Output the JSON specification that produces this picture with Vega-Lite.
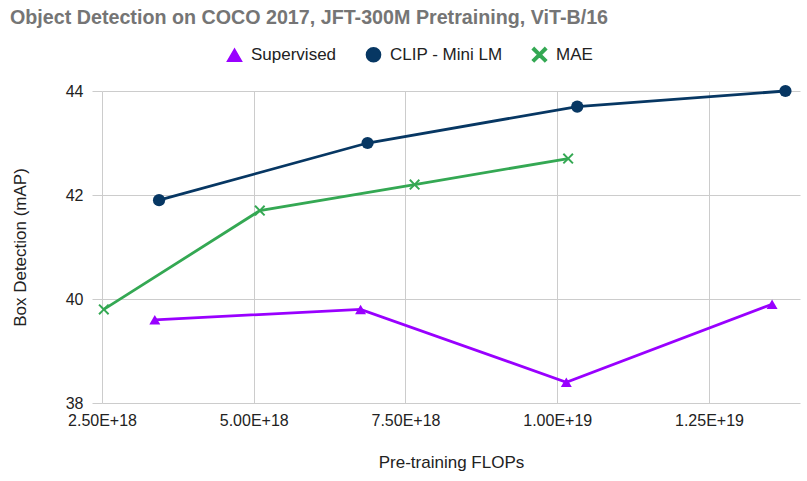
{
  "$schema": "https://vega.github.io/schema/vega-lite/v6.json",
  "autosize": {"type": "none"},
  "width": 698,
  "height": 312,
  "padding": {"left": 102, "top": 91, "right": 7, "bottom": 78},
  "background": "white",
  "title": {
    "text": "Object Detection on COCO 2017, JFT-300M Pretraining, ViT-B/16",
    "anchor": "start",
    "frame": "group",
    "dx": -92,
    "offset": 18,
    "font": "Liberation Sans",
    "fontSize": 19.7,
    "fontWeight": "bold",
    "color": "#757575"
  },
  "data": {
    "values": [
      {"series": "Supervised", "flops": 3.37e18, "map": 39.6},
      {"series": "Supervised", "flops": 6.76e18, "map": 39.8},
      {"series": "Supervised", "flops": 10.15e18, "map": 38.4},
      {"series": "Supervised", "flops": 13.54e18, "map": 39.9},
      {"series": "CLIP - Mini LM", "flops": 3.44e18, "map": 41.9},
      {"series": "CLIP - Mini LM", "flops": 6.875e18, "map": 43.0},
      {"series": "CLIP - Mini LM", "flops": 10.33e18, "map": 43.7},
      {"series": "CLIP - Mini LM", "flops": 13.76e18, "map": 44.0},
      {"series": "MAE", "flops": 2.53e18, "map": 39.8},
      {"series": "MAE", "flops": 5.1e18, "map": 41.7},
      {"series": "MAE", "flops": 7.65e18, "map": 42.2},
      {"series": "MAE", "flops": 10.18e18, "map": 42.7}
    ]
  },
  "encoding": {
    "x": {
      "field": "flops",
      "type": "quantitative",
      "scale": {"domain": [2.5e18, 1.4e19], "nice": false, "zero": false},
      "axis": {
        "title": "Pre-training FLOPs",
        "values": [2.5e18, 5e18, 7.5e18, 1e19, 1.25e19],
        "labelExpr": "upper(format(datum.value, '.2e'))",
        "ticks": false,
        "domain": false,
        "labelPadding": 9,
        "titlePadding": 26,
        "labelFlush": false,
        "labelOverlap": false
      }
    },
    "y": {
      "field": "map",
      "type": "quantitative",
      "scale": {"domain": [38, 44], "nice": false, "zero": false},
      "axis": {
        "title": "Box Detection (mAP)",
        "values": [38, 40, 42, 44],
        "tickSize": 10,
        "labelPadding": 9,
        "titlePadding": 36,
        "domain": false
      }
    },
    "color": {
      "field": "series",
      "type": "nominal",
      "scale": {"domain": ["Supervised", "CLIP - Mini LM", "MAE"], "range": ["#9900ff", "#073763", "#34a853"]},
      "legend": {
        "title": null,
        "orient": "none",
        "direction": "horizontal",
        "legendX": 124,
        "legendY": -45
      }
    }
  },
  "layer": [
    {
      "mark": {"type": "line", "strokeWidth": 2.8}
    },
    {
      "mark": {"type": "point", "filled": true, "opacity": 1},
      "encoding": {
        "shape": {
          "field": "series",
          "type": "nominal",
          "scale": {"domain": ["Supervised", "CLIP - Mini LM", "MAE"], "range": ["triangle-up", "circle", "M-1,-0.75L-0.75,-1L0,-0.25L0.75,-1L1,-0.75L0.25,0L1,0.75L0.75,1L0,0.25L-0.75,1L-1,0.75L-0.25,0Z"]},
          "legend": {
            "title": null,
            "orient": "none",
            "direction": "horizontal",
            "legendX": 124,
            "legendY": -45
          }
        },
        "size": {
          "condition": {"test": "datum.series === 'CLIP - Mini LM'", "value": 150},
          "value": 120
        }
      }
    }
  ],
  "config": {
    "view": {"stroke": null},
    "font": "Liberation Sans",
    "axis": {
      "labelFont": "Liberation Sans",
      "labelFontSize": 16,
      "labelColor": "#222222",
      "titleFont": "Liberation Sans",
      "titleFontSize": 17,
      "titleFontWeight": "normal",
      "titleColor": "#222222",
      "gridColor": "#cccccc",
      "gridWidth": 1,
      "tickColor": "#cccccc"
    },
    "legend": {
      "labelFont": "Liberation Sans",
      "labelFontSize": 17,
      "labelColor": "#222222",
      "symbolSize": 200,
      "labelOffset": 8,
      "columnPadding": 26,
      "symbolOpacity": 1
    }
  }
}
